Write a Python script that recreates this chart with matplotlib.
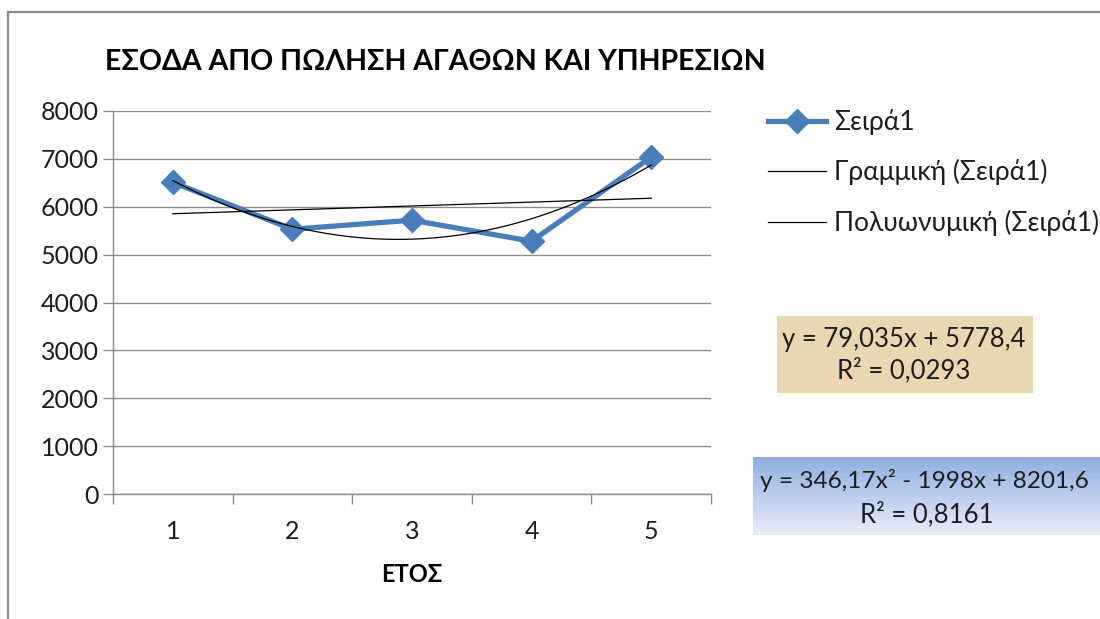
import numpy as np
import matplotlib
matplotlib.use("Agg")
import matplotlib.pyplot as plt
from matplotlib.lines import Line2D
from matplotlib.patches import Rectangle

# ---- data ----
years = [1, 2, 3, 4, 5]
revenue = [6510, 5530, 5720, 5280, 7040]
yticks = [0, 1000, 2000, 3000, 4000, 5000, 6000, 7000, 8000]
title = "ΕΣΟΔΑ ΑΠΟ ΠΩΛΗΣΗ ΑΓΑΘΩΝ ΚΑΙ ΥΠΗΡΕΣΙΩΝ"
xlabel = "ΕΤΟΣ"
legend_labels = ["Σειρά1", "Γραμμική (Σειρά1)", "Πολυωνυμική (Σειρά1)"]
lin_eq = ["y = 79,035x + 5778,4", "R² = 0,0293"]
poly_eq = ["y = 346,17x² - 1998x + 8201,6", "R² = 0,8161"]

W, H = 1100, 619
plt.rcParams['font.family'] = ['Lato', 'DejaVu Sans']
fig = plt.figure(figsize=(W / 100, H / 100), dpi=100)

def fx(px):
    return px / W

def fy(py):
    return 1 - py / H

# outer chart border (left and top edges visible)
fig.add_artist(Line2D([fx(8), fx(8)], [fy(619), fy(12)], color='#8a8a8a', lw=1.6,
                      transform=fig.transFigure))
fig.add_artist(Line2D([fx(8), fx(1100)], [fy(12), fy(12)], color='#8a8a8a', lw=1.6,
                      transform=fig.transFigure))

ax = fig.add_axes([fx(113), fy(494), fx(711) - fx(113), fy(111) - fy(494)])
blue = '#4a7ebb'
grid = '#8c8c8c'
txt = '#1e1e1e'

x = np.array(years, dtype=float)
y = np.array(revenue, dtype=float)
ax.plot(x, y, color=blue, lw=3.8, marker='D', ms=12, mfc=blue, mec=blue,
        solid_joinstyle='round', zorder=3)

lin = np.polyfit(x, y, 1)
xx = np.linspace(1, 5, 200)
ax.plot(xx, np.polyval(lin, xx), color='black', lw=0.9, zorder=4)
quad = np.polyfit(x, y, 2)
ax.plot(xx, np.polyval(quad, xx), color='black', lw=0.9, zorder=4)

ax.set_xlim(0.5, 5.5)
ax.set_ylim(0, 8000)
ax.set_yticks(yticks)
ax.set_yticklabels([str(v) for v in yticks], fontsize=18, color=txt)
ax.yaxis.grid(True, color=grid, lw=1.0)
ax.set_axisbelow(True)
ax.tick_params(axis='y', length=7, width=1.0, color=grid, pad=3)

ax.set_xticks(years)
ax.set_xticklabels([str(v) for v in years], fontsize=18, color=txt)
ax.set_xticks([0.5, 1.5, 2.5, 3.5, 4.5, 5.5], minor=True)
ax.tick_params(axis='x', which='major', length=0, pad=19)
ax.tick_params(axis='x', which='minor', length=7, width=1.0, color=grid)

for s in ['top', 'right']:
    ax.spines[s].set_visible(False)
ax.spines['left'].set_color(grid)
ax.spines['bottom'].set_color(grid)
ax.spines['left'].set_linewidth(1.0)
ax.spines['bottom'].set_linewidth(1.0)

ax.set_xlabel(xlabel, fontsize=17, fontweight='bold', labelpad=14, color='black')

fig.text(fx(105), fy(62), title, fontsize=20.5, fontweight='bold', ha='left', va='center',
         color='black')

# legend
handles = [
    Line2D([], [], color=blue, lw=3.8, marker='D', ms=12, mfc=blue, mec=blue),
    Line2D([], [], color='black', lw=0.9),
    Line2D([], [], color='black', lw=0.9),
]
leg = fig.legend(handles, legend_labels, loc='upper left',
                 bbox_to_anchor=(fx(768), fy(109)), frameon=False, fontsize=19,
                 handlelength=2.2, handletextpad=0.3, labelspacing=0.92,
                 borderaxespad=0, borderpad=0)
for t in leg.get_texts():
    t.set_color(txt)

# equation boxes
fig.add_artist(Rectangle((fx(777), fy(393)), fx(1033) - fx(777), fy(316) - fy(393),
                         transform=fig.transFigure, facecolor='#e9d6b2', edgecolor='none'))
fig.text(fx(904), fy(340), lin_eq[0], fontsize=18.5, ha='center', va='center', color=txt)
fig.text(fx(904), fy(370), lin_eq[1], fontsize=18.5, ha='center', va='center', color=txt)

gax = fig.add_axes([fx(753), fy(535), fx(1100) - fx(753), fy(457) - fy(535)])
grad = np.linspace(0, 1, 100).reshape(-1, 1)
top = np.array([0x90, 0xae, 0xe0]) / 255
bot = np.array([0xe8, 0xee, 0xf9]) / 255
img = top[None, None, :] * (1 - grad[:, :, None]) + bot[None, None, :] * grad[:, :, None]
gax.imshow(img, aspect='auto', extent=(0, 1, 0, 1))
gax.axis('off')
fig.text(fx(760), fy(480), poly_eq[0], fontsize=17.6, ha='left', va='center', color=txt)
fig.text(fx(927), fy(514), poly_eq[1], fontsize=18.5, ha='center', va='center', color=txt)

fig.savefig('out.png', dpi=100)
